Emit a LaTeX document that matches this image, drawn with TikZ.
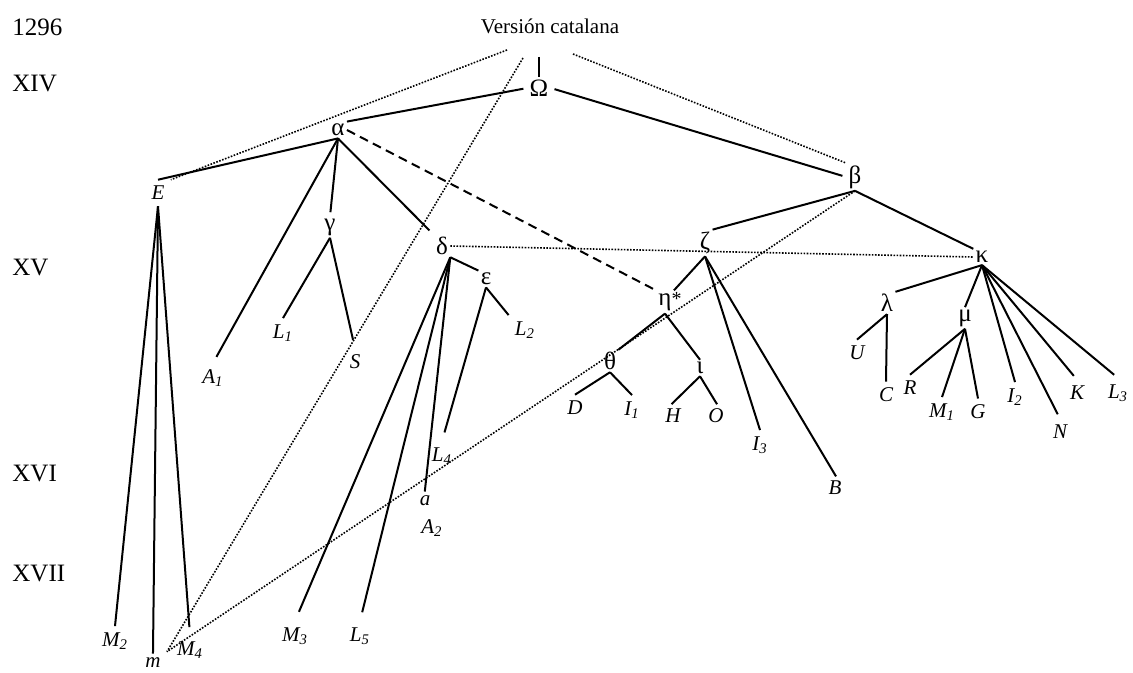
\documentclass[tikz,border=0pt]{standalone}
\usepackage{fontspec}
\setmainfont{Liberation Serif}
\usetikzlibrary{positioning}

\tikzset{
  hyp/.style={font=\fontsize{12.5}{14}\selectfont, inner sep=1pt},
  wit/.style={font=\fontsize{10.5}{12}\selectfont\itshape, inner sep=3pt},
  cent/.style={font=\fontsize{12.5}{15}\selectfont, anchor=west, inner sep=0pt},
  filiation/.style={line width=1pt},
  contam/.style={line width=0.8pt, dash pattern=on 0.8pt off 0.75pt},
  doubt/.style={line width=1pt, dash pattern=on 4.5pt off 2.8pt},
  gap/.style={shorten >=#1},
}
\newcommand{\sig}[2]{#1\textsubscript{#2}}

\begin{document}
\begin{tikzpicture}[x=0.5pt, y=-0.5pt]
\useasboundingbox (0,0) rectangle (1133,673);

% ==================== centuries ====================
\node[cent] (d1296) at (12,27) {1296};
\node[cent] (dXIV) at (12,84) {XIV};
\node[cent] (dXV) at (12,268) {XV};
\node[cent] (dXVI) at (12,474) {XVI};
\node[cent] (dXVII) at (12,573) {XVII};

\node[font=\fontsize{10.5}{12}\selectfont] (cat) at (550,26) {Versión catalana};

% ==================== hyparchetypes ====================
\node[hyp] (Omega) at (539,88) {Ω};
\node[hyp] (alpha) at (338,130) {α};
\node[hyp] (beta) at (855,177) {β};
\node[hyp] (gamma) at (330,227) {γ};
\node[hyp] (delta) at (442,246) {δ};
\node[hyp] (epsilon) at (486,279) {ε};
\node[hyp] (zeta) at (705,243) {ζ};
\node[hyp] (eta) at (665,302) {η\rlap{\fontsize{10}{10}\selectfont *}};
\node[hyp] (theta) at (610,361) {θ};
\node[hyp] (iota) at (700,368) {ι};
\node[hyp] (kappa) at (982,257) {κ};
\node[hyp] (lambda) at (887,303) {λ};
\node[hyp] (mu) at (965,318) {μ};

% ==================== witnesses ====================
\node[wit] (E) at (158,193) {E};
\node[wit] (A1) at (213,378) {\sig{A}{1}};
\node[wit] (L1) at (283,333) {\sig{L}{1}};
\node[wit] (S) at (355,362) {S};
\node[wit] (L2) at (525,330) {\sig{L}{2}};
\node[wit] (L4) at (442,456) {\sig{L}{4}};
\node[wit] (a) at (425,501) {a};
\node[wit] (A2) at (432,528) {\sig{A}{2}};
\node[wit] (M3) at (295,636) {\sig{M}{3}};
\node[wit] (L5) at (360,636) {\sig{L}{5}};
\node[wit] (M2) at (115,641) {\sig{M}{2}};
\node[wit] (m) at (153,663) {m};
\node[wit] (M4) at (190,650) {\sig{M}{4}};
\node[wit] (D) at (575,408) {D};
\node[wit] (I1) at (632,410) {\sig{I}{1}};
\node[wit] (H) at (673,416) {H};
\node[wit] (O) at (716,416) {O};
\node[wit] (I3) at (760,445) {\sig{I}{3}};
\node[wit] (B) at (835,488) {B};
\node[wit] (U) at (857,353) {U};
\node[wit] (C) at (886,395) {C};
\node[wit] (R) at (910,388) {R};
\node[wit] (M1) at (942,412) {\sig{M}{1}};
\node[wit] (G) at (978,412) {G};
\node[wit] (I2) at (1015,397) {\sig{I}{2}};
\node[wit] (N) at (1060,432) {N};
\node[wit] (K) at (1077,393) {K};
\node[wit] (L3) at (1118,393) {\sig{L}{3}};

% free ends near the title
\coordinate (top) at (539,57);
\coordinate (srcE) at (507,50);
\coordinate (srcm) at (523,58);
\coordinate (srcbeta) at (573,54);

% ==================== filiation ====================
\draw[filiation] (top) -- (Omega.north);
\draw[filiation, shorten <=2pt] (Omega.west) -- (alpha.north east);
\draw[filiation, shorten <=2pt, gap=2pt] (Omega.east) -- (beta.west);

\draw[filiation] (alpha.south) -- (E.north);
\draw[filiation, gap=3.5pt] (alpha.south) -- (A1.north);
\draw[filiation, gap=2pt] (alpha.south) -- (gamma.north);
\draw[filiation, gap=3pt] (alpha.south) -- (delta.north west);

\draw[filiation] (gamma.south) -- (L1.north);
\draw[filiation, gap=4.5pt] (gamma.south) -- (S.north);

\draw[filiation] (delta.south east) -- (epsilon.north west);
\draw[filiation, gap=5pt] (delta.south east) -- (M3.north);
\draw[filiation, gap=4.5pt] (delta.south east) -- (L5.north);
\draw[filiation, gap=-1pt] (delta.south east) -- (a.north);
\draw[filiation, gap=4.5pt] (epsilon.south) -- (L4.north);
\draw[filiation] (epsilon.south) -- (L2.north west);

\draw[filiation] (E.south) -- (M2.north);
\draw[filiation, gap=-1pt] (E.south) -- (m.north);
\draw[filiation, gap=4pt] (E.south) -- (M4.north);

\draw[filiation] (beta.south) -- (zeta.north east);
\draw[filiation] (beta.south) -- (kappa.north west);

\draw[filiation] (zeta.south) -- (eta.north east);
\draw[filiation] (zeta.south) -- (I3.north);
\draw[filiation, gap=-1pt] (zeta.south) -- (B.north);
\draw[filiation] (eta.south) -- (theta.north east);
\draw[filiation] (eta.south) -- (iota.north);
\draw[filiation] (theta.south) -- (D.north);
\draw[filiation] (theta.south) -- (I1.north);
\draw[filiation, gap=-1pt] (iota.south) -- (H.north);
\draw[filiation, gap=-1pt] (iota.south) -- (O.north);

\draw[filiation] (kappa.south) -- (lambda.north east);
\draw[filiation] (kappa.south) -- (mu.north);
\draw[filiation] (kappa.south) -- (I2.north);
\draw[filiation, gap=2.5pt] (kappa.south) -- (N.north);
\draw[filiation, gap=2.5pt] (kappa.south) -- (K.north);
\draw[filiation, gap=2.5pt] (kappa.south) -- (L3.north);
\draw[filiation] (lambda.south) -- (U.north);
\draw[filiation] (lambda.south) -- (C.north);
\draw[filiation] (mu.south) -- (R.north);
\draw[filiation] (mu.south) -- (M1.north);
\draw[filiation] (mu.south) -- (G.north);

% ==================== contamination ====================
\draw[doubt] (alpha.east) -- (eta.north west);
\draw[contam] (srcE) -- (E.north east);
\draw[contam] (srcbeta) -- (beta.north west);
\draw[contam] (srcm) -- (m.north east);
\draw[contam] (beta.south) -- (m.north east);
\draw[contam] (delta.east) -- (kappa.west);

\end{tikzpicture}
\end{document}
